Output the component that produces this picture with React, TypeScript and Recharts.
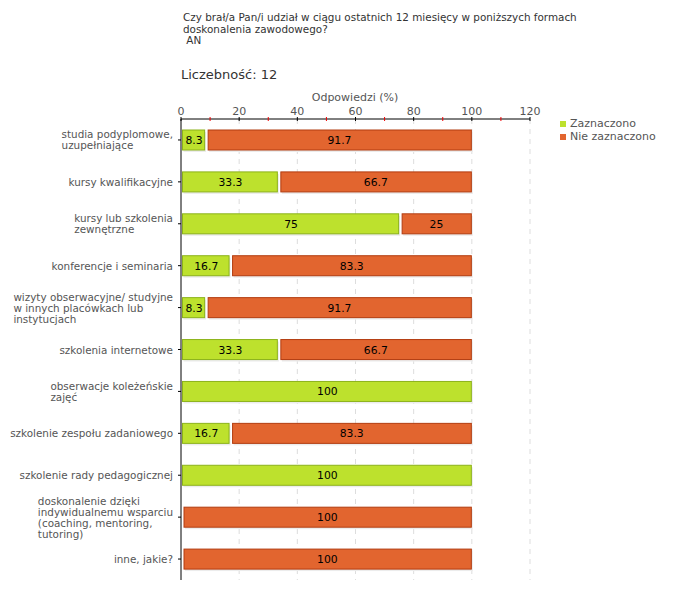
import { BarChart, Bar, XAxis, YAxis, CartesianGrid, LabelList } from 'recharts';

const categories = [
    'studia podyplomowe,\nuzupełniające',
    'kursy kwalifikacyjne',
    'kursy lub szkolenia\nzewnętrzne',
    'konferencje i seminaria',
    'wizyty obserwacyjne/ studyjne\nw innych placówkach lub\ninstytucjach',
    'szkolenia internetowe',
    'obserwacje koleżeńskie\nzajęć',
    'szkolenie zespołu zadaniowego',
    'szkolenie rady pedagogicznej',
    'doskonalenie dzięki\nindywidualnemu wsparciu\n(coaching, mentoring,\ntutoring)',
    'inne, jakie?',
];
const zaznaczono = [8.3, 33.3, 75, 16.7, 8.3, 33.3, 100, 16.7, 100, 0, 0];
const nieZaznaczono = [91.7, 66.7, 25, 83.3, 91.7, 66.7, 0, 83.3, 0, 100, 100];
const xTicks = [0, 10, 20, 30, 40, 50, 60, 70, 80, 90, 100, 110, 120];
const gridValues = [20, 40, 60, 80, 100, 120];

const data = categories.map((name, i) => ({
    name,
    zaz: zaznaczono[i],
    nie: nieZaznaczono[i],
}));

const FONT = '"DejaVu Sans", Verdana, sans-serif';
const FS = 10.4;
const GREEN = '#bde12d';
const GREEN_STROKE = '#8cb21a';
const ORANGE = '#e2652f';
const ORANGE_STROKE = '#b23c10';

let ctx: CanvasRenderingContext2D | null = null;
const measure = (t: string) => {
    if (!ctx) ctx = document.createElement('canvas').getContext('2d');
    if (!ctx) return t.length * 5.3;
    ctx.font = `${FS}px ${FONT}`;
    return ctx.measureText(t).width;
};

const XTick = (props: any) => {
    const { x, y, payload } = props;
    const major = payload.value % 20 === 0;
    return (
        <g>
            <line x1={x} x2={x} y1={y - 2} y2={y + 2} stroke={major ? '#000' : '#e00'} />
            {major && (
                <text x={x} y={y - 4} textAnchor="middle" fontSize={FS + 0.6} fontFamily={FONT} fill="#555">
                    {payload.value}
                </text>
            )}
        </g>
    );
};

const YTick = (props: any) => {
    const { x, y, payload } = props;
    const lines = String(payload.value).split('\n');
    const maxW = Math.max(...lines.map(measure));
    const startX = x - maxW;
    return (
        <g>
            {lines.map((l, i) => (
                <text
                    key={i}
                    x={startX}
                    y={y + (i - (lines.length - 1) / 2) * 11 + 4}
                    textAnchor="start"
                    fontSize={FS}
                    fontFamily={FONT}
                    fill="#555"
                >
                    {l}
                </text>
            ))}
        </g>
    );
};

const makeShape = (fill: string, stroke: string, inset: number) => (props: any) => {
    const { x, y, width, height } = props;
    if (!width || width <= 0) return <g />;
    return (
        <g>
            <rect x={x + inset + 1} y={y + 2} width={width - inset} height={height} fill="#ececec" />
            <rect x={x + inset} y={y} width={width - inset - 0.5} height={height} fill={fill} stroke={stroke} strokeWidth={1} />
        </g>
    );
};

const ValueLabel = (props: any) => {
    const { x, y, width, height, value } = props;
    if (!value) return null;
    return (
        <text x={x + width / 2 + 1} y={y + height / 2 + 4} textAnchor="middle" fontSize={FS + 0.4} fontFamily={FONT} fill="#000">
            {value}
        </text>
    );
};

export default function App() {
    return (
        <div style={{ position: 'absolute', left: 0, top: 0, width: 680, height: 600, background: '#fff', fontFamily: FONT }}>
            <div style={{ position: 'absolute', left: 183, top: 12, fontSize: FS, lineHeight: '11.5px', color: '#333', whiteSpace: 'pre' }}>
                {'Czy brał/a Pan/i udział w ciągu ostatnich 12 miesięcy w poniższych formach\ndoskonalenia zawodowego?\n AN'}
            </div>
            <div style={{ position: 'absolute', left: 181, top: 67, fontSize: 13, color: '#333' }}>Liczebność: 12</div>
            <div style={{ position: 'absolute', left: 305, top: 91, width: 100, textAlign: 'center', fontSize: FS + 0.6, color: '#555' }}>
                Odpowiedzi (%)
            </div>
            <div style={{ position: 'absolute', left: 560, top: 117, fontSize: FS + 0.6, lineHeight: '13px', color: '#555' }}>
                <div style={{ display: 'flex', alignItems: 'center' }}>
                    <span style={{ display: 'inline-block', width: 6, height: 6, background: GREEN, marginRight: 4 }} />
                    Zaznaczono
                </div>
                <div style={{ display: 'flex', alignItems: 'center' }}>
                    <span style={{ display: 'inline-block', width: 6, height: 6, background: ORANGE, marginRight: 4 }} />
                    Nie zaznaczono
                </div>
            </div>
            <div style={{ position: 'absolute', left: 0, top: 0 }}>
                <BarChart width={680} height={600} data={data} layout="vertical" barSize={20}
                    margin={{ top: 89, left: 0, right: 150, bottom: 20 }}>
                    <CartesianGrid
                        horizontal={false}
                        stroke="#ddd"
                        strokeDasharray="5 5"
                        verticalCoordinatesGenerator={({ xAxis, offset }: any) =>
                            gridValues.map((v) =>
                                xAxis && typeof xAxis.scale === 'function'
                                    ? xAxis.scale(v)
                                    : offset.left + (v / 120) * offset.width
                            )
                        }
                    />
                    <XAxis type="number" orientation="top" domain={[0, 120]} ticks={xTicks} height={30}
                        tickSize={0} tickMargin={0} tickLine={false} axisLine={{ stroke: '#000' }}
                        tick={<XTick />} interval={0} />
                    <YAxis type="category" dataKey="name" width={181} tickSize={3} tickMargin={5}
                        tickLine={{ stroke: '#000' }} axisLine={{ stroke: '#000' }} tick={<YTick />} interval={0} />
                    <Bar dataKey="zaz" stackId="a" isAnimationActive={false} shape={makeShape(GREEN, GREEN_STROKE, 1.5)}>
                        <LabelList dataKey="zaz" content={<ValueLabel />} />
                    </Bar>
                    <Bar dataKey="nie" stackId="a" isAnimationActive={false} shape={makeShape(ORANGE, ORANGE_STROKE, 3)}>
                        <LabelList dataKey="nie" content={<ValueLabel />} />
                    </Bar>
                </BarChart>
            </div>
        </div>
    );
}
